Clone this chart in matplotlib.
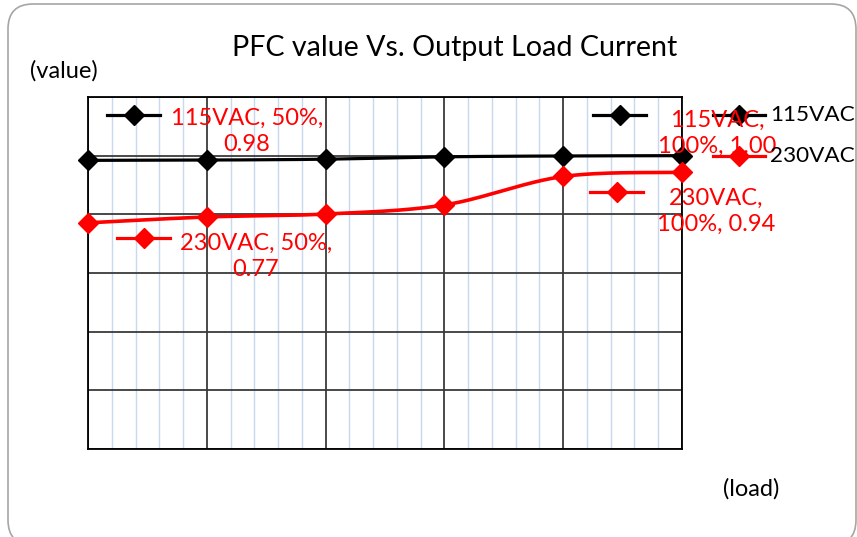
import numpy as np
import matplotlib
matplotlib.use("Agg")
import matplotlib.pyplot as plt
from matplotlib.lines import Line2D
from matplotlib.patches import FancyBboxPatch
from matplotlib.transforms import IdentityTransform

# ---------------- data ----------------
loads = [50, 60, 70, 80, 90, 100]          # output load, %
series_names = ["115VAC", "230VAC"]
pfc_115 = [0.984, 0.985, 0.988, 0.996, 0.999, 1.00]
pfc_230 = [0.771, 0.791, 0.801, 0.832, 0.929, 0.943]
series_colors = ["#000000", "#FF0000"]
title = "PFC value Vs. Output Load Current"
y_label = "(value)"
x_label = "(load)"

W, H = 857, 537
fig = plt.figure(figsize=(W / 100, H / 100), dpi=100)
plt.rcParams["font.family"] = ["Lato", "DejaVu Sans"]


def fx(px):
    return px / W


def fy(py):
    return 1 - py / H


# rounded chart border (pixel coordinates, origin bottom-left)
fig.patches.append(FancyBboxPatch((8, H - 545), 856 - 8, 545 - 4,
                                  boxstyle="round,pad=0,rounding_size=25",
                                  transform=IdentityTransform(), facecolor="white",
                                  edgecolor="#a6a6a6", linewidth=1.2, zorder=-10))

ax = fig.add_axes([fx(88), fy(449), fx(682) - fx(88), fy(97) - fy(449)])
ax.set_facecolor("none")
xs = np.arange(len(loads))
ax.set_xlim(0, len(loads) - 1)
ax.set_ylim(0, 1.2)
ax.set_xticks(xs)
ax.set_xticks(np.arange(0, len(loads) - 1 + 1e-9, 0.2), minor=True)
ax.set_yticks(np.arange(0, 1.21, 0.2))
ax.tick_params(which="both", length=0, labelbottom=False, labelleft=False)
ax.grid(which="minor", axis="x", color="#c6d9f1", linewidth=1.0, zorder=0)
ax.grid(which="major", axis="both", color="#3a3a3a", linewidth=1.3, zorder=1)
for s in ax.spines.values():
    s.set_color("#000000")
    s.set_linewidth(1.3)


def smooth(x, y, n=30):
    x = np.asarray(x, float)
    y = np.asarray(y, float)
    P = np.column_stack([x, y])
    P = np.vstack([P[0], P, P[-1]])
    out = []
    t = np.linspace(0, 1, n)[:, None]
    for i in range(1, len(P) - 2):
        p0, p1, p2, p3 = P[i - 1], P[i], P[i + 1], P[i + 2]
        b1 = p1 + (p2 - p0) / 6
        b2 = p2 - (p3 - p1) / 6
        seg = ((1 - t) ** 3) * p1 + 3 * ((1 - t) ** 2) * t * b1 + 3 * (1 - t) * t ** 2 * b2 + t ** 3 * p2
        out.append(seg)
    out = np.vstack(out)
    return out[:, 0], out[:, 1]


for vals, col, lw in [(pfc_115, series_colors[0], 2.3), (pfc_230, series_colors[1], 2.6)]:
    sx, sy = smooth(xs, vals)
    ax.plot(sx, sy, color=col, linewidth=lw, zorder=5, clip_on=False, solid_capstyle="round")
    ax.plot(xs, vals, linestyle="none", marker="D", markersize=10, color=col, zorder=6, clip_on=False)


def key(x0, x1, y, col, lw=2.3):
    fig.add_artist(Line2D([fx(x0), fx(x1)], [fy(y), fy(y)], color=col, linewidth=lw,
                          transform=fig.transFigure, zorder=7))
    fig.add_artist(Line2D([fx((x0 + x1) / 2)], [fy(y)], marker="D", markersize=10, color=col,
                          transform=fig.transFigure, zorder=7))


FS = 17
# data labels (with legend keys, as in the original)
lab_color = "#FF0000"
d = [
    (series_names[0], 0, pfc_115, (107, 160, 115), (247, 131), "#000000"),
    (series_names[0], -1, pfc_115, (593, 646, 115), (717, 133), "#000000"),
    (series_names[1], 0, pfc_230, (117, 170, 238), (256, 256), "#FF0000"),
    (series_names[1], -1, pfc_230, (590, 643, 192), (716, 211), "#FF0000"),
]
for name, idx, vals, (k0, k1, ky), (tx, ty), kcol in d:
    key(k0, k1, ky, kcol)
    if idx == 0:
        txt = f"{name}, {loads[idx]}%,\n{vals[idx]:.2f}"
    else:
        txt = f"{name},\n{loads[idx]}%, {vals[idx]:.2f}"
    fig.text(fx(tx), fy(ty), txt, color=lab_color, fontsize=FS, ha="center", va="center",
             linespacing=1.3, zorder=8)

# legend
for i, (name, col) in enumerate(zip(series_names, series_colors)):
    y = 115 + i * 41
    key(713, 765, y, col)
    fig.text(fx(770), fy(y), name, color="black", fontsize=16.2, ha="left", va="center", zorder=8)

fig.text(fx(455), fy(48), title, fontsize=20.6, ha="center", va="center")
fig.text(fx(64), fy(71), y_label, fontsize=FS, ha="center", va="center")
fig.text(fx(751), fy(489), x_label, fontsize=FS, ha="center", va="center")

fig.savefig("out.png", dpi=100)
